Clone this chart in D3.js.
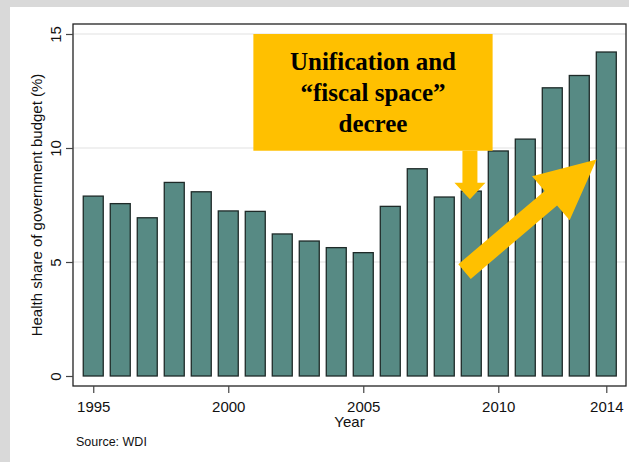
<!DOCTYPE html>
<html>
<head>
<meta charset="utf-8">
<script src="https://cdn.jsdelivr.net/npm/d3@7"></script>
<style>
  html, body { margin: 0; padding: 0; background: #d9d9d9; }
  svg { display: block; }
</style>
</head>
<body>
<script>
// data
const years = [1995, 1996, 1997, 1998, 1999, 2000, 2001, 2002, 2003, 2004,
  2005, 2006, 2007, 2008, 2009, 2010, 2011, 2012, 2013, 2014]
const healthShare = [7.89, 7.56, 6.94, 8.49, 8.08, 7.24, 7.22, 6.23, 5.92, 5.63,
  5.41, 7.44, 9.09, 7.85, 8.11, 9.87, 10.39, 12.64, 13.18, 14.21]
const yTicks = [0, 5, 10, 15]
const xTicks = [1995, 2000, 2005, 2010, 2014]
const noteLines = ['Unification and', '\u201cfiscal space\u201d', 'decree']

const WIDTH = 629
const HEIGHT = 462

const PLOT = { left: 73, right: 626, top: 24, bottom: 386 }

const BAR_FILL = '#578a84'
const ANNOT = '#ffc000'

const x = d3.scaleLinear().domain([1994.25, 2014.73]).range([PLOT.left, PLOT.right])
const y = d3.scaleLinear().domain([0, 15]).range([376, 34])

const svg = d3.select('body').append('svg')
  .attr('width', WIDTH)
  .attr('height', HEIGHT)

// outer panel
svg.append('rect')
  .attr('x', 10).attr('y', 7)
  .attr('width', WIDTH - 10).attr('height', HEIGHT - 7)
  .attr('fill', '#fff')

// grid
svg.append('g')
  .selectAll('line')
  .data(yTicks.filter(d => d > 0))
  .join('line')
    .attr('x1', PLOT.left).attr('x2', PLOT.right)
    .attr('y1', d => y(d)).attr('y2', d => y(d))
    .attr('stroke', '#e2e2e2')
    .attr('stroke-width', 1.2)

// bars
const half = 0.37
svg.append('g')
  .selectAll('rect')
  .data(years)
  .join('rect')
    .attr('x', d => x(d - half))
    .attr('width', d => x(d + half) - x(d - half))
    .attr('y', (d, i) => y(healthShare[i]))
    .attr('height', (d, i) => y(0) - y(healthShare[i]))
    .attr('fill', BAR_FILL)
    .attr('stroke', '#1e2a28')
    .attr('stroke-width', 1.3)

// annotation box
const box = { x0: 2000.93, x1: 2009.79, y0: 15, y1: 9.88 }
svg.append('rect')
  .attr('x', x(box.x0)).attr('y', y(box.y0))
  .attr('width', x(box.x1) - x(box.x0))
  .attr('height', y(box.y1) - y(box.y0))
  .attr('fill', ANNOT)

const cx = (x(box.x0) + x(box.x1)) / 2
svg.append('g')
  .selectAll('text')
  .data(noteLines)
  .join('text')
    .attr('x', cx)
    .attr('y', (d, i) => y(box.y0) + 36 + i * 31)
    .attr('text-anchor', 'middle')
    .attr('font-family', '"Liberation Serif", "Times New Roman", serif')
    .attr('font-weight', 'bold')
    .attr('font-size', 25)
    .attr('fill', '#000')
    .text(d => d)

// down arrow under the box
const dx = x(2008.95)
const dTop = y(box.y1)
const dHead = y(8.48)
const dTip = y(7.75)
svg.append('path')
  .attr('d', d3.line()([
    [dx - 7.5, dTop], [dx + 7.5, dTop], [dx + 7.5, dHead], [dx + 15.5, dHead],
    [dx, dTip], [dx - 15.5, dHead], [dx - 7.5, dHead]
  ]) + 'Z')
  .attr('fill', ANNOT)

// diagonal arrow
const tail = [x(2008.75), y(4.58)]
const tip = [x(2013.64), y(9.5)]
const len = Math.hypot(tip[0] - tail[0], tip[1] - tail[1])
const ux = (tip[0] - tail[0]) / len
const uy = (tip[1] - tail[1]) / len
const nx = -uy
const ny = ux
const shaftW = 9.6
const headW = 29
const headL = 60
const base = [tip[0] - ux * headL, tip[1] - uy * headL]
svg.append('path')
  .attr('d', d3.line()([
    [tail[0] + nx * shaftW, tail[1] + ny * shaftW],
    [base[0] + nx * shaftW, base[1] + ny * shaftW],
    [base[0] + nx * headW, base[1] + ny * headW],
    tip,
    [base[0] - nx * headW, base[1] - ny * headW],
    [base[0] - nx * shaftW, base[1] - ny * shaftW],
    [tail[0] - nx * shaftW, tail[1] - ny * shaftW]
  ]) + 'Z')
  .attr('fill', ANNOT)

// frame
svg.append('rect')
  .attr('x', PLOT.left).attr('y', PLOT.top)
  .attr('width', PLOT.right - PLOT.left)
  .attr('height', PLOT.bottom - PLOT.top)
  .attr('fill', 'none')
  .attr('stroke', '#222')
  .attr('stroke-width', 1.3)

const FONT = '"Liberation Sans", Arial, sans-serif'

// y axis
const yAxis = svg.append('g')
  .attr('transform', `translate(${PLOT.left},0)`)
  .call(d3.axisLeft(y).tickValues(yTicks).tickSize(7).tickFormat(d3.format('d')))
yAxis.select('.domain').remove()
yAxis.selectAll('.tick line').attr('stroke', '#444').attr('stroke-width', 1.2)
yAxis.selectAll('.tick text')
  .attr('font-family', FONT)
  .attr('font-size', 15)
  .attr('fill', '#111')
  .attr('text-anchor', 'middle')
  .attr('dy', 0)
  .attr('x', 0)
  .attr('transform', 'translate(-12,0) rotate(-90)')

// x axis
const xAxis = svg.append('g')
  .attr('transform', `translate(0,${PLOT.bottom})`)
  .call(d3.axisBottom(x).tickValues(xTicks).tickSize(7).tickFormat(d3.format('d')))
xAxis.select('.domain').remove()
xAxis.selectAll('.tick line').attr('stroke', '#444').attr('stroke-width', 1.2)
xAxis.selectAll('.tick text')
  .attr('font-family', FONT)
  .attr('font-size', 15)
  .attr('fill', '#111')
  .attr('y', 26)
  .attr('dy', 0)

// axis titles
svg.append('text')
  .attr('transform', `translate(42,${(PLOT.top + PLOT.bottom) / 2}) rotate(-90)`)
  .attr('text-anchor', 'middle')
  .attr('font-family', FONT)
  .attr('font-size', 15)
  .attr('fill', '#111')
  .text('Health share of government budget (%)')

svg.append('text')
  .attr('x', (PLOT.left + PLOT.right) / 2)
  .attr('y', 427)
  .attr('text-anchor', 'middle')
  .attr('font-family', FONT)
  .attr('font-size', 15)
  .attr('fill', '#111')
  .text('Year')

svg.append('text')
  .attr('x', 76)
  .attr('y', 446)
  .attr('font-family', FONT)
  .attr('font-size', 12.5)
  .attr('fill', '#111')
  .text('Source: WDI')
</script>
</body>
</html>
